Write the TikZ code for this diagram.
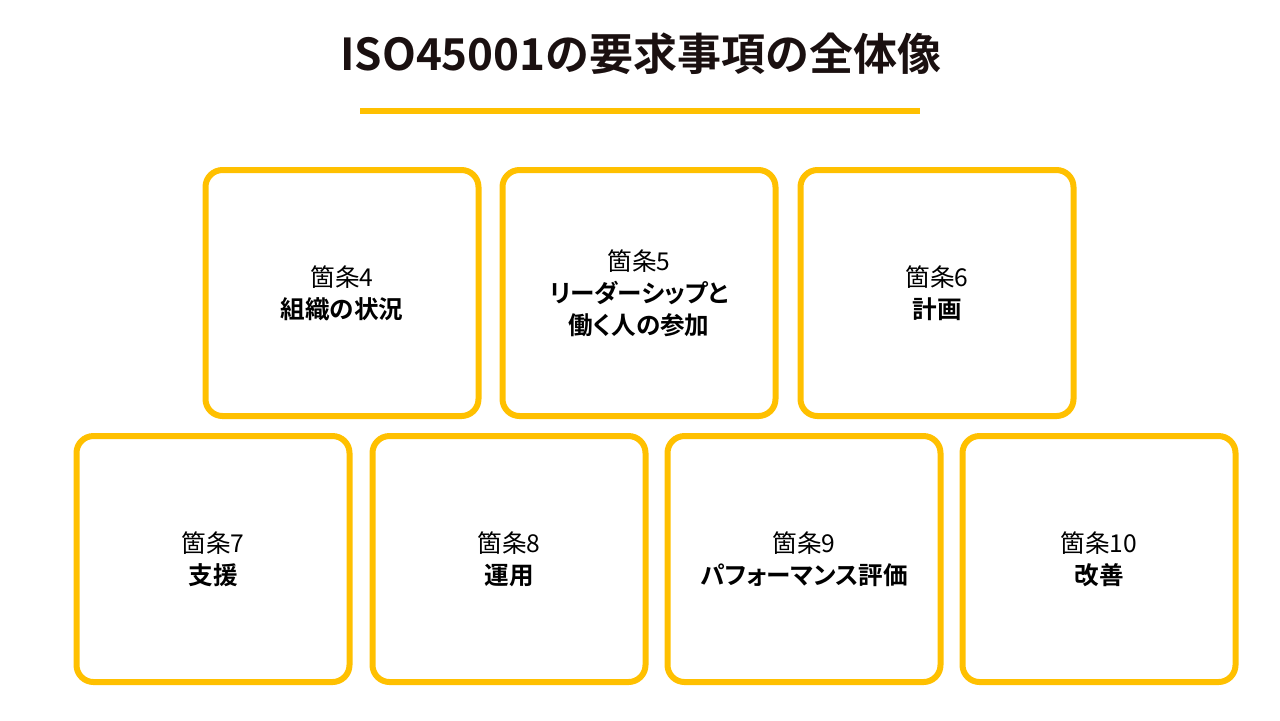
\documentclass[tikz,border=0pt]{standalone}
\usepackage{fontspec}
\setmainfont{Noto Sans CJK JP}[BoldFont={Noto Sans CJK JP Bold}]
\newfontfamily\kashofont{Noto Sans CJK JP}[BoldFont={Noto Sans CJK JP Bold}, RawFeature=+palt]
\definecolor{kiiro}{HTML}{FFC000}
\definecolor{sumi}{HTML}{1A1010}
\begin{document}
\begin{tikzpicture}[x=0.5pt, y=-0.5pt, line join=round]
	\tikzset{kasho/.style={draw=kiiro, line width=3pt, rounded corners=8.5pt, minimum width=136.5pt, minimum height=123pt, align=center, text=black, font=\kashofont\fontsize{12.3pt}{16pt}\selectfont}}
	\useasboundingbox (0,0) rectangle (1280,720);
	\node[text=sumi, font=\fontsize{22pt}{26pt}\selectfont\bfseries] (title) at (641,54) {ISO45001の要求事項の全体像};
	\draw[kiiro, line width=3pt] (360,111)--(920,111);
	% top row
	\node[kasho] (k4) at (342,293) {箇条4\\\textbf{組織の状況}};
	\node[kasho] (k5) at (639,293) {箇条5\\\textbf{リーダーシップと}\\\textbf{働く人の参加}};
	\node[kasho] (k6) at (937,293) {箇条6\\\textbf{計画}};
	% bottom row
	\node[kasho] (k7) at (213,559) {箇条7\\\textbf{支援}};
	\node[kasho] (k8) at (509,559) {箇条8\\\textbf{運用}};
	\node[kasho] (k9) at (804,559) {箇条9\\\textbf{パフォーマンス評価}};
	\node[kasho] (k10) at (1099,559) {箇条10\\\textbf{改善}};
\end{tikzpicture}
\end{document}
